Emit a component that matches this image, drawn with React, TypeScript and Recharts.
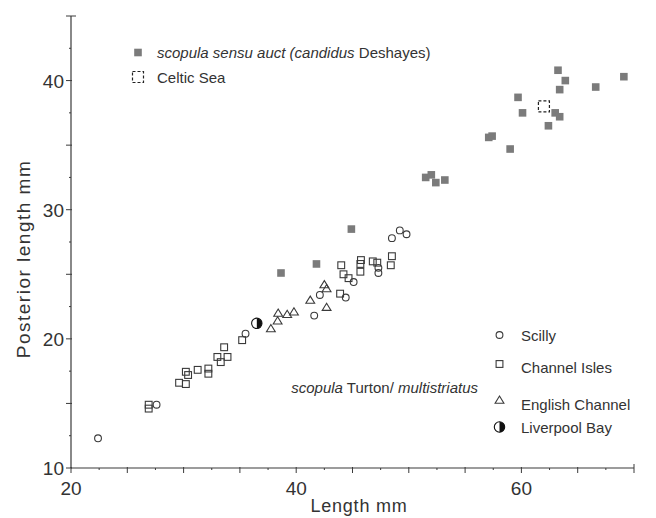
import { Scatter, ScatterChart, XAxis, YAxis } from "recharts";

const X_TICKS = [20, 22.5, 25, 27.5, 30, 32.5, 35, 37.5, 40, 42.5, 45, 47.5, 50, 52.5, 55, 57.5, 60, 62.5, 65, 67.5, 70];
const X_LABELS = [20, 40, 60];
const Y_TICKS = [10, 12.5, 15, 17.5, 20, 22.5, 25, 27.5, 30, 32.5, 35, 37.5, 40, 42.5, 45];
const Y_LABELS = [10, 20, 30, 40];

// scopula sensu auct (candidus Deshayes)
const sensuAuct = [
  { x: 38.65, y: 25.1 }, { x: 41.8, y: 25.8 }, { x: 44.9, y: 28.5 },
  { x: 51.5, y: 32.5 }, { x: 52.0, y: 32.7 }, { x: 52.4, y: 32.1 }, { x: 53.2, y: 32.3 },
  { x: 57.1, y: 35.6 }, { x: 57.4, y: 35.7 }, { x: 59.0, y: 34.7 },
  { x: 59.7, y: 38.7 }, { x: 60.1, y: 37.5 }, { x: 62.4, y: 36.5 },
  { x: 63.0, y: 37.5 }, { x: 63.4, y: 37.2 }, { x: 63.25, y: 40.8 },
  { x: 63.9, y: 40.0 }, { x: 63.4, y: 39.3 }, { x: 66.6, y: 39.5 }, { x: 69.1, y: 40.3 },
];
const celticSea = [{ x: 62.0, y: 38.0 }];

const scilly = [
  { x: 22.4, y: 12.3 }, { x: 27.6, y: 14.9 }, { x: 35.5, y: 20.4 },
  { x: 41.6, y: 21.8 }, { x: 42.1, y: 23.4 }, { x: 44.4, y: 23.2 },
  { x: 45.1, y: 24.4 }, { x: 47.3, y: 25.1 }, { x: 47.3, y: 25.5 },
  { x: 48.5, y: 27.8 }, { x: 49.2, y: 28.4 }, { x: 49.8, y: 28.1 },
];
const channelIsles = [
  { x: 26.9, y: 14.9 }, { x: 26.9, y: 14.6 }, { x: 29.6, y: 16.6 }, { x: 30.2, y: 16.5 },
  { x: 30.2, y: 17.45 }, { x: 30.4, y: 17.2 }, { x: 31.25, y: 17.6 }, { x: 32.2, y: 17.7 },
  { x: 32.2, y: 17.3 }, { x: 33.0, y: 18.6 }, { x: 33.3, y: 18.2 }, { x: 33.6, y: 19.35 },
  { x: 33.9, y: 18.6 }, { x: 35.2, y: 19.9 }, { x: 43.9, y: 23.5 }, { x: 44.0, y: 25.7 },
  { x: 44.2, y: 25.0 }, { x: 44.65, y: 24.7 }, { x: 45.7, y: 25.2 }, { x: 45.75, y: 26.1 },
  { x: 45.7, y: 25.8 }, { x: 46.8, y: 26.0 }, { x: 47.2, y: 25.9 }, { x: 48.4, y: 25.7 },
  { x: 48.5, y: 26.4 },
];
const englishChannel = [
  { x: 37.75, y: 20.8 }, { x: 38.35, y: 21.4 }, { x: 38.4, y: 22.0 }, { x: 39.2, y: 21.9 },
  { x: 39.8, y: 22.1 }, { x: 41.25, y: 23.0 }, { x: 42.5, y: 24.2 }, { x: 42.7, y: 23.9 },
  { x: 42.7, y: 22.45 },
];
const liverpoolBay = [{ x: 36.5, y: 21.2 }];

const INK = "#3a3a3a";
const GREY = "#7b7b7b";
const FONT = "'Liberation Sans', Arial, sans-serif";

function FilledSquare({ cx = 0, cy = 0 }: any) {
  return <rect x={cx - 3.8} y={cy - 3.8} width={7.6} height={7.6} fill={GREY} />;
}
function DashedSquare({ cx = 0, cy = 0 }: any) {
  return (
    <rect x={cx - 5.5} y={cy - 5.5} width={11} height={11} fill="#fff" stroke="#222" strokeWidth={1.2} strokeDasharray="3 2" />
  );
}
function OpenSquare({ cx = 0, cy = 0 }: any) {
  return <rect x={cx - 3.4} y={cy - 3.4} width={6.8} height={6.8} fill="none" stroke={INK} strokeWidth={1.1} />;
}
function OpenCircle({ cx = 0, cy = 0 }: any) {
  return <circle cx={cx} cy={cy} r={3.4} fill="none" stroke={INK} strokeWidth={1.1} />;
}
function OpenTriangle({ cx = 0, cy = 0 }: any) {
  return (
    <path d={`M${cx},${cy - 4} L${cx + 4.4},${cy + 3.2} L${cx - 4.4},${cy + 3.2} Z`} fill="none" stroke={INK} strokeWidth={1.1} />
  );
}
function HalfCircle({ cx = 0, cy = 0 }: any) {
  const r = 5.2;
  return (
    <g>
      <circle cx={cx} cy={cy} r={r} fill="#fff" stroke="#111" strokeWidth={1.1} />
      <path d={`M${cx},${cy - r} A${r},${r} 0 0 1 ${cx},${cy + r} Z`} fill="#111" />
    </g>
  );
}

function XTick({ x = 0, y = 0, payload }: any) {
  const v = payload?.value as number;
  const major = v % 5 === 0;
  return (
    <g>
      <line x1={x} x2={x} y1={y - (v === 70 ? 4 : major ? 1 : 0)} y2={y + (major ? 5 : 2)} stroke={INK} strokeWidth={1} />
      {X_LABELS.includes(v) && (
        <text x={x} y={y + 27} textAnchor="middle" fill="#333" fontSize={19} fontFamily={FONT}>
          {v}
        </text>
      )}
    </g>
  );
}

function YTick({ x = 0, y = 0, payload }: any) {
  const v = payload?.value as number;
  const major = v % 5 === 0;
  return (
    <g>
      <line x1={x - (major ? 5 : 2)} x2={x + (v === 45 ? 5 : major ? 1 : 0)} y1={y} y2={y} stroke={INK} strokeWidth={1} />
      {Y_LABELS.includes(v) && (
        <text x={x - 7} y={y + 7} textAnchor="end" fill="#333" fontSize={19} fontFamily={FONT}>
          {v}
        </text>
      )}
    </g>
  );
}

export default function App() {
  return (
    <div style={{ position: "absolute", left: 0, top: 0, width: 656, height: 518, background: "#fff" }}>
      <ScatterChart width={656} height={518} margin={{ top: 16, right: 22, bottom: 0, left: 0 }}>
        <XAxis
          type="number"
          dataKey="x"
          domain={[20, 70]}
          ticks={X_TICKS}
          interval={0}
          height={50}
          tickSize={0}
          tickMargin={0}
          tickLine={false}
          axisLine={{ stroke: INK, strokeWidth: 1.2 }}
          tick={<XTick />}
        />
        <YAxis
          type="number"
          dataKey="y"
          domain={[10, 45]}
          ticks={Y_TICKS}
          interval={0}
          width={71}
          tickSize={0}
          tickMargin={0}
          tickLine={false}
          axisLine={{ stroke: INK, strokeWidth: 1.2 }}
          tick={<YTick />}
        />
        <Scatter data={sensuAuct} shape={FilledSquare} isAnimationActive={false} />
        <Scatter data={channelIsles} shape={OpenSquare} isAnimationActive={false} />
        <Scatter data={scilly} shape={OpenCircle} isAnimationActive={false} />
        <Scatter data={englishChannel} shape={OpenTriangle} isAnimationActive={false} />
        <Scatter data={liverpoolBay} shape={HalfCircle} isAnimationActive={false} />
        <Scatter data={celticSea} shape={DashedSquare} isAnimationActive={false} />
      </ScatterChart>

      <svg width={656} height={518} style={{ position: "absolute", left: 0, top: 0, pointerEvents: "none" }}>
        <g fontFamily={FONT} fill="#333">
          <text
            transform="translate(30, 259) rotate(-90)"
            textAnchor="middle"
            fontSize={19}
            letterSpacing={1.5}
          >
            Posterior length mm
          </text>
          <text x={359} y={512} textAnchor="middle" fontSize={18} letterSpacing={0.8}>
            Length mm
          </text>

          <FilledSquare cx={138} cy={52.5} />
          <text x={157} y={58} fontSize={15}>
            <tspan fontStyle="italic">scopula sensu auct (candidus</tspan> Deshayes)
          </text>
          <DashedSquare cx={138} cy={77} />
          <text x={157} y={82.5} fontSize={15}>Celtic Sea</text>

          <text x={478} y={393} textAnchor="end" fontSize={15}>
            <tspan fontStyle="italic">scopula</tspan> Turton/ <tspan fontStyle="italic">multistriatus</tspan>
          </text>

          <OpenCircle cx={499.5} cy={335} />
          <text x={521} y={340.5} fontSize={15}>Scilly</text>
          <OpenSquare cx={499.5} cy={364} />
          <text x={521} y={373} fontSize={15}>Channel Isles</text>
          <OpenTriangle cx={499.5} cy={400} />
          <text x={521} y={409.5} fontSize={15}>English Channel</text>
          <HalfCircle cx={499.5} cy={427} />
          <text x={521} y={433} fontSize={15}>Liverpool Bay</text>
        </g>
      </svg>
    </div>
  );
}
